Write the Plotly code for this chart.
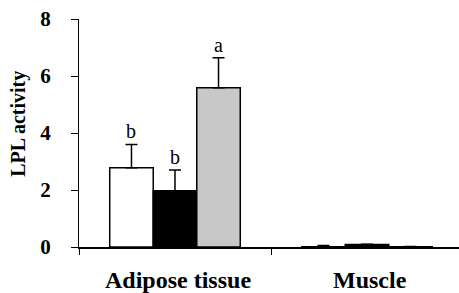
import plotly.graph_objects as go

tissues = ["Adipose tissue", "Muscle"]
series_names = ["Group 1", "Group 2", "Group 3"]
series_values = [
    [2.78, 0.01],
    [1.97, 0.09],
    [5.59, 0.01],
]
series_errors = [
    [0.82, 0.04],
    [0.73, 0.01],
    [1.05, 0.01],
]
series_colors = ["#ffffff", "#000000", "#c8c8c8"]
sig_letters = [["b", ""], ["b", ""], ["a", ""]]
y_ticks = [0, 2, 4, 6, 8]

xpos = list(range(len(tissues)))
SERIF = "Liberation Serif"

fig = go.Figure()
for name, vals, errs, col in zip(series_names, series_values, series_errors, series_colors):
    fig.add_trace(go.Bar(
        x=xpos, y=vals, name=name,
        marker=dict(color=col, line=dict(color="#000000", width=1.5)),
        error_y=dict(type="data", symmetric=False, array=errs,
                     arrayminus=[0] * len(errs), color="#000000",
                     thickness=1.5, width=6),
    ))

# significance letters
n = len(series_names)
group_w = 0.68
bw = group_w / n
for i in range(n):
    for j, t in enumerate(tissues):
        letter = sig_letters[i][j]
        if not letter:
            continue
        xc = xpos[j] - group_w / 2 + bw * (i + 0.5)
        fig.add_annotation(x=xc, y=series_values[i][j] + series_errors[i][j],
                           xref="x", yref="y", text=letter, showarrow=False,
                           yanchor="bottom", yshift=0,
                           font=dict(family=SERIF, size=20, color="#000000"))

# category labels
label_shift = [3, 3]
for j, t in enumerate(tissues):
    fig.add_annotation(x=xpos[j], y=-0.08, xref="x", yref="paper", text=t,
                       showarrow=False, yanchor="top", xanchor="center",
                       xshift=label_shift[j],
                       font=dict(family=SERIF, size=24, color="#000000", weight="bold"))

# y-axis title
fig.add_annotation(x=-0.158, y=0.54, xref="paper", yref="paper", text="LPL activity",
                   textangle=-90, showarrow=False, xanchor="center", yanchor="middle",
                   font=dict(family=SERIF, size=20, color="#000000", weight="bold"))

fig.update_layout(
    width=459, height=293,
    margin=dict(l=79, r=0, t=19, b=46),
    paper_bgcolor="#ffffff", plot_bgcolor="#ffffff",
    barmode="group", bargap=1 - group_w, bargroupgap=0,
    showlegend=False,
    xaxis=dict(range=[-0.5, -0.5 + 380 / 192], tickvals=[-0.5, 0.5], ticktext=["", ""],
               ticks="outside", ticklen=6, tickwidth=1, tickcolor="#000000",
               showline=True, linecolor="#000000", linewidth=1.5,
               showgrid=False, zeroline=False, automargin=False),
    yaxis=dict(range=[0, 8], tickvals=y_ticks, ticks="outside", ticklen=7,
               tickwidth=1, tickcolor="#000000",
               showline=True, linecolor="#000000", linewidth=1,
               showgrid=False, zeroline=False, ticklabelstandoff=16, automargin=False,
               tickfont=dict(family=SERIF, size=21, color="#000000", weight="bold")),
)

fig.write_html("out.html", config={"displayModeBar": False},
               post_script="document.body.style.margin='0';document.body.style.padding='0';")
